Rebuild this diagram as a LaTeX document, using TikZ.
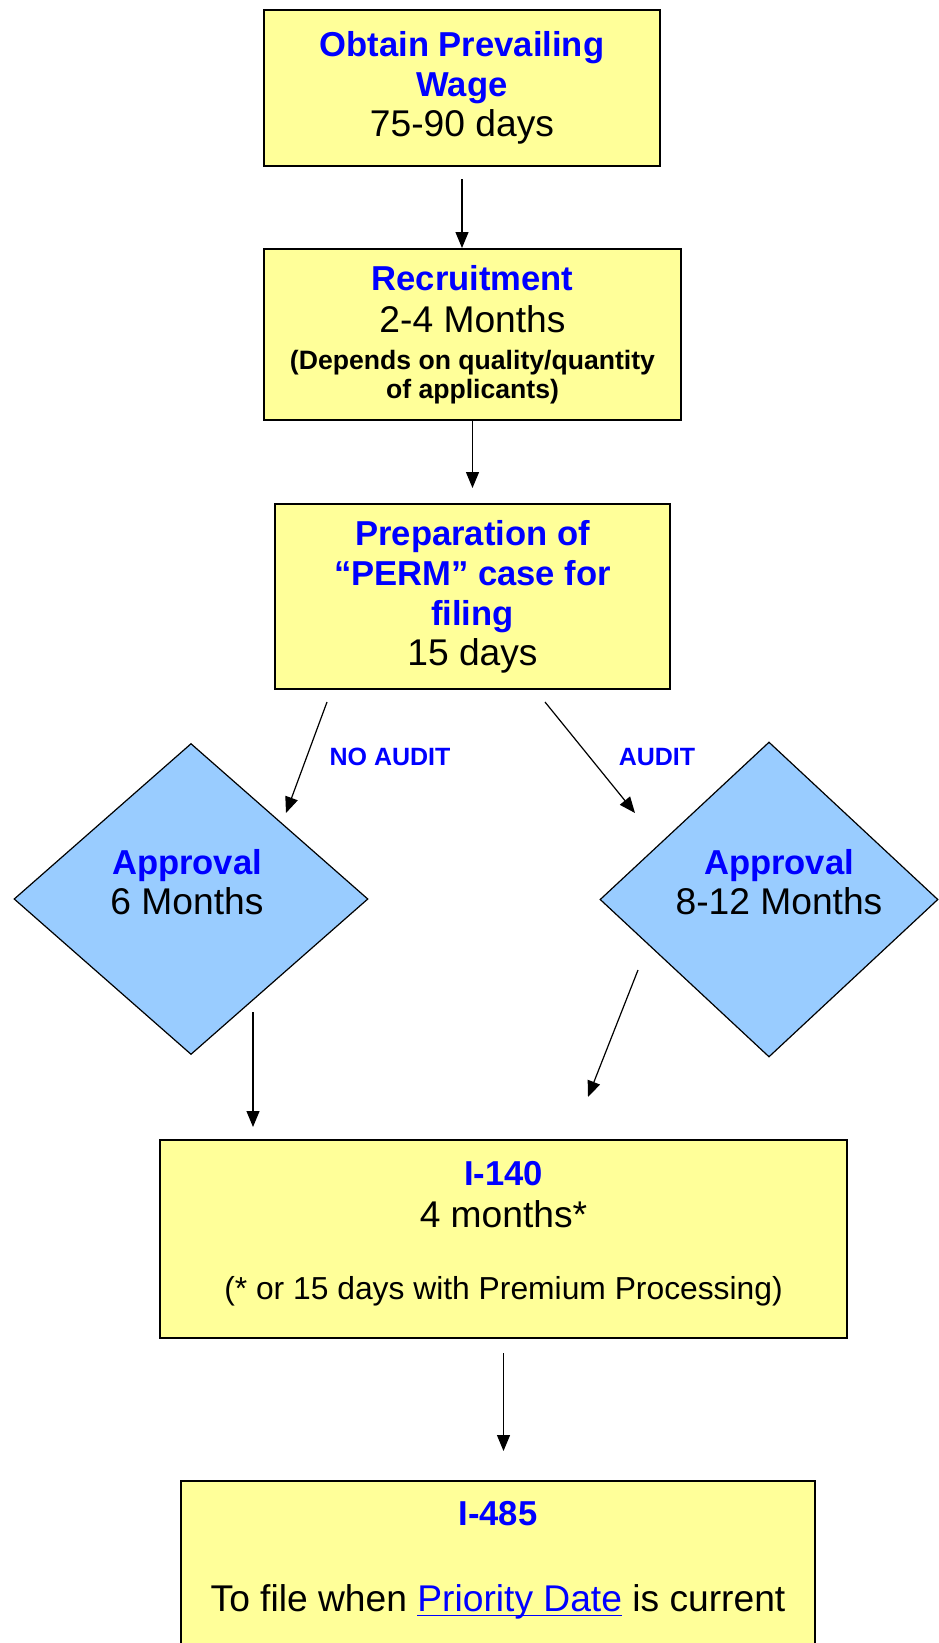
\documentclass[tikz,border=0pt]{standalone}
\usepackage{fontspec}
\setmainfont{Liberation Sans}
\usetikzlibrary{shapes.geometric,arrows.meta}
\definecolor{boxyellow}{HTML}{FFFF99}
\definecolor{diamblue}{HTML}{99CCFF}
\definecolor{headblue}{HTML}{0000FF}
\newcommand{\hd}[1]{{\fontsize{17.3}{20}\selectfont\bfseries\color{headblue}#1}}
\newcommand{\nt}[1]{{\fontsize{13.3}{14.5}\selectfont\bfseries #1}}
\newcommand{\linkul}[1]{\setbox0=\hbox{#1}\rlap{\rule[-2.6pt]{\wd0}{0.8pt}}\box0}
\begin{document}
\begin{tikzpicture}[x=0.5pt, y=-0.5pt, >={Triangle[length=8pt,width=6.5pt]},
  stage/.style={draw, line width=1pt, fill=boxyellow, align=center, inner sep=0pt,
    font=\fontsize{18.6}{20}\selectfont},
  approval/.style={diamond, draw, line width=0.6pt, fill=diamblue, inner sep=0pt},
  dtext/.style={align=center, font=\fontsize{18.6}{20}\selectfont},
  branch/.style={font=\fontsize{12.5}{14}\selectfont\bfseries, text=headblue},
  link/.style={->, line width=0.6pt}]
  \useasboundingbox (0,0) rectangle (938,1643);
  % Stages
  \node[stage, minimum width=198pt, minimum height=78pt] (wage) at (462,88)
    {\hd{Obtain Prevailing}\\\hd{Wage}\\75-90 days};
  \node[stage, minimum width=208.5pt, minimum height=85.5pt] (recruit) at (472.5,334.5)
    {\hd{Recruitment}\\[1pt]2-4 Months\\[-1.5pt]\nt{(Depends on quality/quantity}\\[-5.5pt]\nt{of applicants)}};
  \node[stage, minimum width=197.5pt, minimum height=92.5pt] (prep) at (472.5,596.5)
    {\hd{Preparation of}\\\hd{“PERM” case for}\\\hd{filing}\\15 days};
  % Approvals
  \node[approval, minimum width=177pt, minimum height=155.5pt] (appNo) at (191,899) {};
  \node[approval, minimum width=169pt, minimum height=157.5pt] (appAu) at (769,899.5) {};
  \node[dtext] (appNoTxt) at (187,882) {\hd{Approval}\\6 Months};
  \node[dtext] (appAuTxt) at (779,882) {\hd{Approval}\\8-12 Months};
  % Petitions
  \node[stage, minimum width=343.5pt, minimum height=99pt] (petition) at (503.5,1239)
    {\hd{I-140}\\[1pt]4 months*\\[16pt]{\fontsize{15.9}{18}\selectfont(* or 15 days with Premium Processing)}\\[-11.5pt]\mbox{}};
  \node[stage, minimum width=317pt, minimum height=100pt, anchor=north] (adjust) at (498,1480) {};
  \node[dtext, anchor=base] (adjustTitle) at (498,1525) {\hd{I-485}};
  \node[dtext, anchor=base] (adjustNote) at (498,1611)
    {To file when {\color{headblue}\linkul{Priority Date}} is current};
  % Free ends
  \coordinate (noStart) at (327,702);
  \coordinate (noEnd) at (286,813);
  \coordinate (auStart) at (545,702);
  \coordinate (auEnd) at (635,813);
  \coordinate (noOut) at (253,1012);
  \coordinate (noIn) at (253,1127);
  \coordinate (auOut) at (638,970);
  \coordinate (auIn) at (588,1097);
  % Connectors
  \draw[link] ([yshift=-6pt]wage.south) -- (wage.south |- recruit.north);
  \draw[link] (recruit.south) -- ([yshift=7.5pt]recruit.south |- prep.north);
  \draw[link] (noStart) -- (noEnd);
  \draw[link] (auStart) -- (auEnd);
  \draw[link] (noOut) -- (noIn);
  \draw[link] (auOut) -- (auIn);
  \draw[link] ([yshift=-7pt]petition.south) -- ([yshift=14.5pt]petition.south |- adjust.north);
  % Branch labels
  \node[branch] (noLbl) at (390,757) {NO AUDIT};
  \node[branch] (auLbl) at (657,757) {AUDIT};
\end{tikzpicture}
\end{document}
